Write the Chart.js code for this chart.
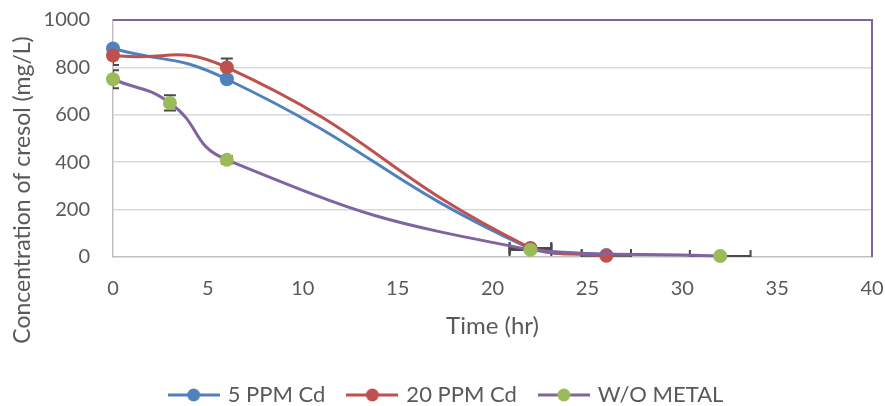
<!DOCTYPE html>
<html>
<head>
<meta charset="utf-8">
<script src="https://cdn.jsdelivr.net/npm/chart.js@4"></script>
<style>
  html, body { margin: 0; padding: 0; background: #ffffff; }
  #wrap { width: 885px; height: 406px; }
</style>
</head>
<body>
<div id="wrap"><canvas id="c" width="885" height="406"></canvas></div>
<script>
// ---- data ----
const seriesNames = ['5 PPM Cd', '20 PPM Cd', 'W/O METAL'];

const timeCd5 = [0, 6, 22, 26];
const concCd5 = [880, 750, 35, 8];
const xErrCd5 = [0, 0, 1.1, 1.3];
const yErrCd5 = [0, 0, 0, 0];

const timeCd20 = [0, 6, 22, 26];
const concCd20 = [850, 800, 38, 5];
const xErrCd20 = [0, 0, 1.1, 1.3];
const yErrCd20 = [40, 38, 0, 0];

const timeNoMetal = [0, 3, 6, 22, 32];
const concNoMetal = [750, 650, 410, 30, 4];
const xErrNoMetal = [0, 0, 0, 1.1, 1.6];
const yErrNoMetal = [38, 32, 15, 0, 0];

const xTickValues = [0, 5, 10, 15, 20, 25, 30, 35, 40];
const yTickValues = [0, 200, 400, 600, 800, 1000];
const xTitle = 'Time (hr)';
const yTitle = 'Concentration of cresol (mg/L)';

// ---- styling ----
const TEXT = '#595959';
const FONT = 'Lato';
const colors = {
  blue: '#4F81BD',
  red: '#C0504D',
  green: '#9BBB59',
  purple: '#8064A2'
};

function points(xs, ys) {
  return xs.map((x, i) => ({ x: x, y: ys[i] }));
}

// line + marker swatch for the legend
function swatch(lineColor, markerColor) {
  const c = document.createElement('canvas');
  c.width = 52; c.height = 16;
  const g = c.getContext('2d');
  g.strokeStyle = lineColor;
  g.lineWidth = 3;
  g.beginPath(); g.moveTo(0, 8); g.lineTo(52, 8); g.stroke();
  g.fillStyle = markerColor;
  g.beginPath(); g.arc(26, 8, 6.5, 0, Math.PI * 2); g.fill();
  return c;
}
const swatches = [
  swatch(colors.blue, colors.blue),
  swatch(colors.red, colors.red),
  swatch(colors.purple, colors.green)
];

const errors = [
  { x: xErrCd5, y: yErrCd5 },
  { x: xErrCd20, y: yErrCd20 },
  { x: xErrNoMetal, y: yErrNoMetal }
];

// error bars, drawn under the series
const errorBarPlugin = {
  id: 'errorBars',
  beforeDatasetsDraw(chart) {
    const { ctx, chartArea: a, scales: { x: xs, y: ys } } = chart;
    const cap = 6;
    ctx.save();
    ctx.beginPath();
    ctx.rect(a.left, a.top, a.right - a.left, a.bottom - a.top);
    ctx.clip();
    ctx.strokeStyle = '#4a4a4a';
    ctx.lineWidth = 2;
    chart.data.datasets.forEach((ds, di) => {
      const err = errors[di];
      ds.data.forEach((p, i) => {
        const px = xs.getPixelForValue(p.x);
        const py = ys.getPixelForValue(p.y);
        const ey = err.y[i], ex = err.x[i];
        if (ey > 0) {
          const t = ys.getPixelForValue(p.y + ey);
          const b = ys.getPixelForValue(p.y - ey);
          ctx.beginPath();
          ctx.moveTo(px, t); ctx.lineTo(px, b);
          ctx.moveTo(px - cap, t); ctx.lineTo(px + cap, t);
          ctx.moveTo(px - cap, b); ctx.lineTo(px + cap, b);
          ctx.stroke();
        }
        if (ex > 0) {
          const l = xs.getPixelForValue(p.x - ex);
          const r = xs.getPixelForValue(p.x + ex);
          ctx.beginPath();
          ctx.moveTo(l, py); ctx.lineTo(r, py);
          ctx.moveTo(l, py - cap); ctx.lineTo(l, py + cap);
          ctx.moveTo(r, py - cap); ctx.lineTo(r, py + cap);
          ctx.stroke();
        }
      });
    });
    ctx.restore();
  }
};

// purple frame on the top and right of the plot area, plus the y-axis title
const framePlugin = {
  id: 'frame',
  afterLayout(chart) {
    // centre the legend row under the whole canvas
    chart.legend.left += 11;
    chart.legend.right += 11;
  },
  beforeDatasetsDraw(chart) {
    const { ctx, chartArea: a } = chart;
    ctx.save();
    ctx.strokeStyle = colors.purple;
    ctx.lineWidth = 2;
    ctx.beginPath();
    ctx.moveTo(a.left, a.top);
    ctx.lineTo(a.right, a.top);
    ctx.lineTo(a.right, a.bottom);
    ctx.stroke();
    ctx.restore();
  },
  afterDraw(chart) {
    const { ctx, chartArea: a } = chart;
    const cy = (a.top + chart.legend.top) / 2;
    ctx.save();
    ctx.translate(23, cy);
    ctx.rotate(-Math.PI / 2);
    ctx.font = '23px ' + FONT;
    ctx.fillStyle = TEXT;
    ctx.textAlign = 'center';
    ctx.textBaseline = 'middle';
    ctx.fillText(yTitle, 0, 0);
    ctx.restore();
  }
};

function lineDataset(label, xs, ys, lineColor, markerColor, order) {
  return {
    label: label,
    data: points(xs, ys),
    showLine: true,
    borderColor: lineColor,
    borderWidth: 3,
    tension: 0.5,
    pointRadius: 7,
    pointHoverRadius: 7,
    pointBackgroundColor: markerColor,
    pointBorderColor: markerColor,
    pointBorderWidth: 0,
    clip: false,
    order: order
  };
}

Chart.defaults.font.family = FONT;
Chart.defaults.color = TEXT;

new Chart(document.getElementById('c'), {
  type: 'scatter',
  data: {
    datasets: [
      lineDataset(seriesNames[0], timeCd5, concCd5, colors.blue, colors.blue, 3),
      lineDataset(seriesNames[1], timeCd20, concCd20, colors.red, colors.red, 2),
      lineDataset(seriesNames[2], timeNoMetal, concNoMetal, colors.purple, colors.green, 1)
    ]
  },
  options: {
    responsive: false,
    animation: false,
    events: [],
    layout: { padding: { top: 20, right: 13, left: 0, bottom: -10 } },
    scales: {
      x: {
        type: 'linear',
        min: 0, max: 40,
        afterBuildTicks: s => { s.ticks = xTickValues.map(v => ({ value: v })); },
        afterFit: s => { s.height = 103; s.paddingLeft = 0; s.paddingRight = 0; },
        grid: { display: false, drawTicks: false },
        border: { display: true, color: '#BFBFBF', width: 1.5 },
        ticks: { padding: 20, font: { size: 20 }, color: TEXT, maxRotation: 0, callback: v => String(v) },
        title: { display: true, text: xTitle, font: { size: 24 }, color: TEXT, padding: { top: 0, bottom: 19 } }
      },
      y: {
        type: 'linear',
        min: 0, max: 1000,
        afterBuildTicks: s => { s.ticks = yTickValues.map(v => ({ value: v })); },
        afterFit: s => { s.width = 113; s.paddingTop = 0; s.paddingBottom = 0; },
        grid: {
          drawTicks: false,
          lineWidth: 1.5,
          color: ctx => (ctx.tick && (ctx.tick.value === 0 || ctx.tick.value === 1000)) ? 'rgba(0,0,0,0)' : '#D9D9D9'
        },
        border: { display: true, color: '#BFBFBF', width: 1.5 },
        ticks: { padding: 23, font: { size: 20 }, color: TEXT, callback: v => String(v) }
      }
    },
    plugins: {
      tooltip: { enabled: false },
      legend: {
        position: 'bottom',
        labels: {
          usePointStyle: true,
          pointStyleWidth: 46,
          padding: 24,
          font: { size: 22 },
          color: TEXT,
          generateLabels: chart => chart.data.datasets.map((ds, i) => ({
            text: ds.label,
            pointStyle: swatches[i],
            fillStyle: 'rgba(0,0,0,0)',
            strokeStyle: 'rgba(0,0,0,0)',
            lineWidth: 0,
            fontColor: TEXT,
            hidden: false,
            datasetIndex: i
          }))
        }
      }
    }
  },
  plugins: [errorBarPlugin, framePlugin]
});
</script>
</body>
</html>
